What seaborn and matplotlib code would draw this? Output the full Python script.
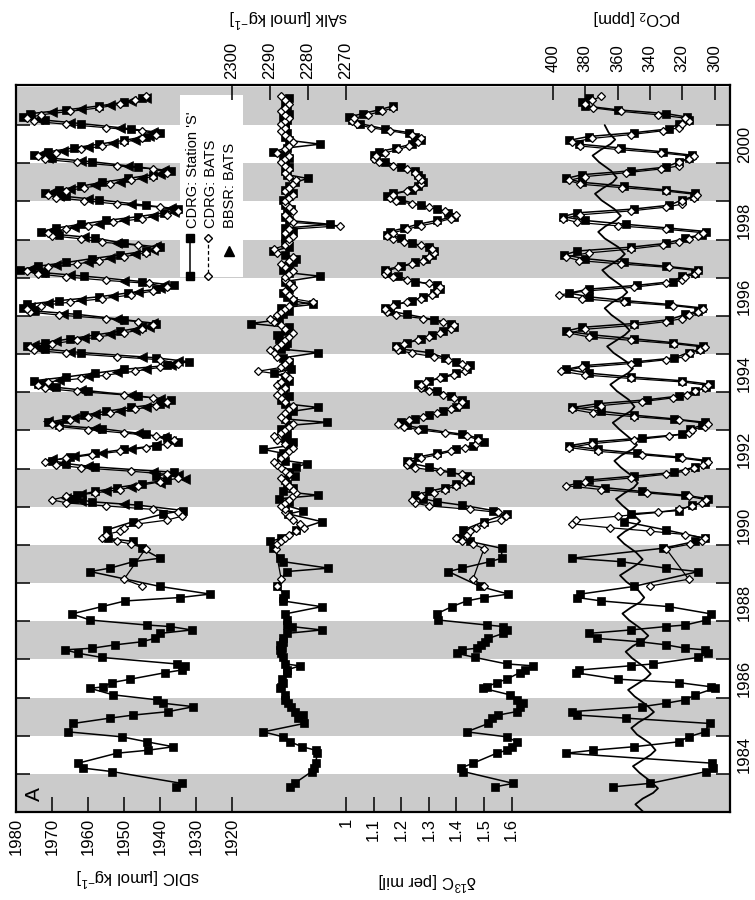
import numpy as np
import pandas as pd
import matplotlib
matplotlib.use("Agg")
import matplotlib.pyplot as plt
from matplotlib.patches import Rectangle
from matplotlib.lines import Line2D
import seaborn as sns

sns.set_theme(style="white")
plt.rcParams['font.family'] = ['Liberation Sans', 'DejaVu Sans']
plt.rcParams['mathtext.fontset'] = 'custom'
plt.rcParams['mathtext.rm'] = 'Liberation Sans'
plt.rcParams['mathtext.it'] = 'Liberation Sans:italic'

# ---------------------------------------------------------------- data
# Station 'S' (CDRG) sampling dates, decimal years
S_T = [
    1983.66, 1983.75,
    1984.06, 1984.15, 1984.28, 1984.54, 1984.62, 1984.71, 1984.84, 1984.97,
    1985.10, 1985.32, 1985.46, 1985.54, 1985.63, 1985.76, 1985.85, 1985.94,
    1986.07, 1986.24, 1986.28, 1986.39, 1986.48, 1986.65, 1986.72, 1986.83, 1986.88,
    1987.05, 1987.16, 1987.25, 1987.29, 1987.38, 1987.46, 1987.55, 1987.68, 1987.77, 1987.86, 1987.90,
    1988.03, 1988.19, 1988.38, 1988.53, 1988.62, 1988.71, 1988.91,
    1989.30, 1989.39, 1989.56, 1989.65, 1989.91,
    1990.09, 1990.17, 1990.39, 1990.61, 1990.81, 1990.90,
    1991.04, 1991.13, 1991.21, 1991.30, 1991.40, 1991.50, 1991.60, 1991.70, 1991.80, 1991.90,
    1992.04, 1992.13, 1992.21, 1992.30, 1992.40, 1992.50, 1992.60, 1992.70, 1992.80, 1992.90,
    1993.04, 1993.13, 1993.21, 1993.30, 1993.40, 1993.50, 1993.60, 1993.70, 1993.80, 1993.90,
    1994.04, 1994.13, 1994.21, 1994.30, 1994.40, 1994.50, 1994.60, 1994.70, 1994.80, 1994.90,
    1995.04, 1995.13, 1995.21, 1995.30, 1995.40, 1995.50, 1995.60, 1995.70, 1995.80, 1995.90,
    1996.04, 1996.13, 1996.21, 1996.30, 1996.40, 1996.50, 1996.60, 1996.70, 1996.80, 1996.90,
    1997.04, 1997.13, 1997.21, 1997.30, 1997.40, 1997.50, 1997.60, 1997.70, 1997.80, 1997.90,
    1998.04, 1998.13, 1998.21, 1998.30, 1998.40, 1998.50, 1998.60, 1998.70, 1998.80, 1998.90,
    1999.04, 1999.13, 1999.21, 1999.30, 1999.40, 1999.50, 1999.60, 1999.70, 1999.80, 1999.90,
    2000.04, 2000.13, 2000.21, 2000.30, 2000.40, 2000.50, 2000.60, 2000.70, 2000.80, 2000.90,
    2001.04, 2001.13, 2001.21, 2001.30, 2001.40, 2001.50, 2001.60, 2001.70,
]
S_DIC = [
    1935.5, 1934.0,
    1953.4, 1961.3, 1962.7, 1952.0, 1943.2, 1936.3, 1943.7, 1950.6,
    1965.5, 1964.1, 1953.9, 1947.4, 1937.7, 1930.7, 1939.1, 1940.9,
    1953.0, 1959.4, 1955.7, 1953.4, 1948.3, 1938.6, 1934.0, 1933.1, 1935.4,
    1956.2, 1962.7, 1966.4, 1959.0, 1952.5, 1945.1, 1941.4, 1940.0, 1931.2, 1937.2, 1943.7,
    1959.4, 1964.5, 1956.2, 1949.7, 1934.4, 1926.1, 1940.0,
    1959.4, 1953.9, 1947.4, 1940.0, 1945.1,
    1947.4, 1954.4, 1954.8, 1947.4, 1939.1, 1933.5,
    1946, 1959, 1964, 1963, 1958, 1952, 1945, 1938, 1941, 1936,
    1958, 1966, 1970, 1965, 1958, 1950, 1941, 1935, 1938, 1944,
    1956, 1968, 1971, 1966, 1961, 1955, 1948, 1940, 1937, 1946,
    1960, 1969, 1974, 1975, 1966, 1958, 1950, 1938, 1932, 1941,
    1962, 1972, 1977, 1972, 1965, 1958, 1951, 1945, 1941, 1950,
    1963, 1975, 1978, 1977, 1968, 1957, 1949, 1941, 1936, 1945,
    1961, 1972, 1979, 1974, 1966, 1959, 1951, 1944, 1940, 1950,
    1958, 1968, 1973, 1969, 1962, 1955, 1946, 1939, 1935, 1944,
    1957, 1966, 1972, 1968, 1962, 1956, 1949, 1942, 1937, 1946,
    1959, 1970, 1975, 1971, 1964, 1957, 1950, 1944, 1940, 1948,
    1962, 1972, 1978, 1976, 1966, 1957, 1950, 1945,
]
S_ALK = [
    2284.7, 2283.5,
    2279.0, 2278.5, 2278.0, 2277.5, 2278.0, 2281.5, 2284.7, 2286.5,
    2291.7, 2281.0, 2282.5, 2281.2, 2283.5, 2284.5, 2285.1, 2286.0,
    2286.0, 2287.3, 2287.0, 2286.5, 2286.9, 2285.6, 2285.6, 2282.1, 2286.0,
    2286.5, 2287.0, 2287.3, 2286.8, 2287.3, 2286.5, 2286.5, 2285.5, 2276.4, 2284.3, 2285.6,
    2285.6, 2286.0, 2276.4, 2286.5, 2286.5, 2286.0, 2288.2,
    2285.6, 2274.6, 2286.5, 2287.3, 2289.1,
    2290.0, 2287.0, 2283.0, 2276.4, 2285.1, 2281.2,
    2286.0, 2285.0, 2287.5, 2277.3, 2286.5, 2284.0, 2285.6, 2286.0, 2283.5, 2285.0,
    2283.0, 2280.3, 2286.0, 2287.0, 2286.5, 2291.7, 2285.0, 2284.0, 2286.0, 2285.5,
    2287.0, 2285.0, 2275.0, 2286.0, 2285.5, 2284.0, 2277.3, 2286.0, 2287.0, 2285.0,
    2286.5, 2286.0, 2287.0, 2285.0, 2286.0, 2289.0, 2284.5, 2286.0, 2285.0, 2286.5,
    2277.3, 2287.0, 2286.0, 2285.5, 2287.5, 2288.0, 2286.0, 2285.0, 2295.0, 2287.5,
    2286.5, 2285.0, 2287.0, 2278.6, 2284.0, 2285.5, 2286.5, 2285.0, 2284.5, 2286.0,
    2276.8, 2285.0, 2286.5, 2285.0, 2284.0, 2283.0, 2286.0, 2289.1, 2285.0, 2286.0,
    2286.0, 2285.5, 2284.0, 2286.0, 2274.2, 2285.0, 2286.0, 2285.5, 2284.5, 2286.0,
    2286.5, 2285.0, 2284.0, 2286.0, 2285.0, 2283.5, 2280.0, 2285.5, 2286.0, 2285.0,
    2286.0, 2285.0, 2286.5, 2289.1, 2285.5, 2276.8, 2285.0, 2286.0, 2285.5, 2286.0,
    2286.0, 2285.5, 2286.5, 2285.0, 2286.0, 2285.5, 2286.0, 2285.0,
]
S_D13C = [
    1.540, 1.606,
    1.425, 1.415, 1.461, 1.546, 1.582, 1.600, 1.618, 1.582,
    1.437, 1.516, 1.530, 1.552, 1.618, 1.630, 1.643, 1.620,
    1.594, 1.498, 1.510, 1.546, 1.582, 1.630, 1.649, 1.679, 1.582,
    1.467, 1.401, 1.420, 1.473, 1.490, 1.505, 1.516, 1.570, 1.582, 1.570, 1.510,
    1.335, 1.328, 1.383, 1.437, 1.500, 1.588, 1.486,
    1.371, 1.420, 1.522, 1.564, 1.564,
    1.449, 1.413, 1.425, 1.500, 1.582, 1.534,
    1.42, 1.33, 1.28, 1.25, 1.30, 1.36, 1.40, 1.45, 1.44, 1.38,
    1.30, 1.24, 1.22, 1.26, 1.33, 1.40, 1.46, 1.50, 1.48, 1.42,
    1.28, 1.22, 1.20, 1.25, 1.30, 1.35, 1.40, 1.43, 1.42, 1.38,
    1.33, 1.28, 1.26, 1.30, 1.35, 1.40, 1.44, 1.45, 1.40, 1.36,
    1.30, 1.20, 1.18, 1.22, 1.27, 1.31, 1.35, 1.39, 1.38, 1.32,
    1.22, 1.16, 1.14, 1.18, 1.24, 1.28, 1.32, 1.34, 1.33, 1.25,
    1.19, 1.15, 1.14, 1.20, 1.25, 1.29, 1.31, 1.32, 1.30, 1.24,
    1.20, 1.15, 1.16, 1.21, 1.26, 1.33, 1.39, 1.37, 1.33, 1.27,
    1.20, 1.15, 1.17, 1.24, 1.26, 1.28, 1.27, 1.26, 1.25, 1.20,
    1.14, 1.11, 1.10, 1.12, 1.18, 1.24, 1.27, 1.25, 1.23, 1.14,
    1.05, 1.02, 1.01, 1.06, 1.12, 1.17, np.nan, np.nan,
]
S_PCO2 = [
    362.7, 339.9,
    305.0, 300.7, 301.7, 392.0, 375.0, 350.0, 322.0, 316.0,
    306.0, 303.0, 355.0, 385.0, 388.0, 345.0, 330.0, 318.0,
    312.0, 300.0, 302.0, 322.0, 360.0, 386.0, 384.0, 352.0, 338.0,
    310.0, 304.0, 306.0, 318.0, 330.0, 346.0, 373.0, 378.0, 352.0, 330.0, 318.0,
    305.0, 302.0, 328.0, 370.0, 385.0, 383.0, 350.0,
    310.0, 330.0, 358.0, 388.0, 332.0,
    312.0, 306.0, 330.0, 356.0, 352.0, 322.0,
    314, 306, 304, 318, 345, 368, 385, 378, 350, 325,
    312, 306, 305, 322, 348, 372, 390, 375, 345, 320,
    315, 308, 306, 325, 350, 370, 388, 372, 342, 322,
    312, 305, 303, 320, 352, 378, 392, 380, 348, 325,
    316, 309, 307, 326, 350, 375, 392, 382, 350, 328,
    318, 310, 308, 328, 355, 378, 390, 378, 348, 326,
    320, 312, 310, 330, 356, 380, 393, 385, 352, 330,
    318, 308, 305, 328, 355, 380, 394, 385, 350, 328,
    320, 313, 312, 330, 356, 382, 392, 382, 352, 330,
    322, 316, 314, 332, 358, 384, 390, 378, 350, 328,
    322, 316, 317, 330, 360, 380, 382, 378,
]

# BATS (CDRG) sampling dates
B_T = [
    1988.92, 1989.10, 1989.90,
    1990.02, 1990.10, 1990.18, 1990.27, 1990.36, 1990.45, 1990.55, 1990.65, 1990.75, 1990.85, 1990.93,
    1991.02, 1991.10, 1991.18, 1991.27, 1991.36, 1991.45, 1991.55, 1991.65, 1991.75, 1991.85, 1991.93,
    1992.02, 1992.10, 1992.18, 1992.27, 1992.36, 1992.45, 1992.55, 1992.65, 1992.75, 1992.85, 1992.93,
    1993.02, 1993.10, 1993.18, 1993.27, 1993.36, 1993.45, 1993.55, 1993.65, 1993.75, 1993.85, 1993.93,
    1994.02, 1994.10, 1994.18, 1994.27, 1994.36, 1994.45, 1994.55, 1994.65, 1994.75, 1994.85, 1994.93,
    1995.02, 1995.10, 1995.18, 1995.27, 1995.36, 1995.45, 1995.55, 1995.65, 1995.75, 1995.85, 1995.93,
    1996.02, 1996.10, 1996.18, 1996.27, 1996.36, 1996.45, 1996.55, 1996.65, 1996.75, 1996.85, 1996.93,
    1997.02, 1997.10, 1997.18, 1997.27, 1997.36, 1997.45, 1997.55, 1997.65, 1997.75, 1997.85, 1997.93,
    1998.02, 1998.10, 1998.18, 1998.27, 1998.36, 1998.45, 1998.55, 1998.65, 1998.75, 1998.85, 1998.93,
    1999.02, 1999.10, 1999.18, 1999.27, 1999.36, 1999.45, 1999.55, 1999.65, 1999.75, 1999.85, 1999.93,
    2000.02, 2000.10, 2000.18, 2000.27, 2000.36, 2000.45, 2000.55, 2000.65, 2000.75, 2000.85, 2000.93,
    2001.02, 2001.10, 2001.18, 2001.27, 2001.36, 2001.45, 2001.55, 2001.65, 2001.75,
]
B_DIC = [
    1945, 1950, 1944,
    1948, 1952, 1956, 1955, 1951, 1950, 1946, 1938, 1934, 1935, 1942,
    1955, 1966, 1970, 1966, 1958, 1951, 1946, 1940, 1935, 1938, 1948,
    1962, 1969, 1972, 1966, 1959, 1951, 1944, 1938, 1936, 1941, 1950,
    1960, 1968, 1970, 1965, 1960, 1954, 1947, 1941, 1938, 1942, 1950,
    1963, 1972, 1974, 1971, 1962, 1955, 1947, 1940, 1935, 1940, 1952,
    1966, 1975, 1976, 1970, 1963, 1957, 1950, 1945, 1942, 1946, 1955,
    1968, 1976, 1977, 1973, 1965, 1956, 1948, 1942, 1938, 1943, 1955,
    1966, 1974, 1977, 1971, 1963, 1957, 1950, 1944, 1941, 1946, 1956,
    1962, 1970, 1971, 1966, 1960, 1953, 1945, 1938, 1935, 1940, 1952,
    1961, 1969, 1971, 1966, 1961, 1954, 1948, 1942, 1938, 1942, 1952,
    1963, 1972, 1974, 1969, 1962, 1956, 1950, 1945, 1941, 1945, 1955,
    1966, 1975, 1977, 1973, 1965, 1957, 1951, 1947, 1944,
]
B_ALK = [
    2288.2, 2287.0, 2288.5,
    2288, 2287, 2286, 2285, 2283, 2281, 2282, 2284, 2285, 2286, 2286,
    2287, 2286, 2285, 2284, 2283, 2284, 2285, 2286, 2287, 2285, 2286,
    2287, 2288, 2289, 2287, 2286, 2285, 2284, 2286, 2288, 2289, 2287,
    2286, 2285, 2284, 2286, 2287, 2286, 2285, 2284, 2286, 2287, 2288,
    2287, 2286, 2288, 2287, 2285, 2286, 2293, 2287, 2286, 2285, 2288,
    2289, 2290, 2288, 2287, 2286, 2285, 2284, 2286, 2287, 2289, 2290,
    2288, 2287, 2286, 2285, 2278.6, 2284, 2285, 2286, 2284, 2285, 2286,
    2286, 2285, 2284, 2286, 2287, 2285, 2284, 2288, 2289, 2286, 2285,
    2285, 2284, 2286, 2285, 2271.6, 2284, 2285, 2286, 2284, 2285, 2286,
    2286, 2285, 2284, 2286, 2285, 2284, 2283, 2285, 2286, 2285, 2286,
    2287, 2286, 2285, 2288, 2286, 2285, 2284, 2285, 2286, 2287, 2286,
    2287, 2286, 2285, 2286, 2287, 2286, 2285, 2286, 2287,
]
B_D13C = [
    1.50, 1.46, 1.50,
    1.46, 1.42, 1.40, 1.44, 1.45, 1.47, 1.50, 1.56, 1.58, 1.55, 1.45,
    1.30, 1.25, 1.24, 1.27, 1.32, 1.36, 1.40, 1.43, 1.45, 1.42, 1.34,
    1.25, 1.22, 1.23, 1.27, 1.33, 1.38, 1.43, 1.47, 1.48, 1.44, 1.36,
    1.26, 1.21, 1.19, 1.23, 1.28, 1.33, 1.38, 1.41, 1.42, 1.39, 1.35,
    1.30, 1.27, 1.27, 1.29, 1.34, 1.39, 1.43, 1.44, 1.42, 1.37, 1.32,
    1.24, 1.19, 1.18, 1.21, 1.26, 1.30, 1.34, 1.38, 1.39, 1.35, 1.28,
    1.18, 1.15, 1.14, 1.17, 1.22, 1.27, 1.31, 1.33, 1.34, 1.30, 1.22,
    1.17, 1.14, 1.15, 1.19, 1.24, 1.28, 1.30, 1.32, 1.31, 1.27, 1.21,
    1.17, 1.15, 1.17, 1.22, 1.27, 1.33, 1.38, 1.40, 1.36, 1.30, 1.24,
    1.18, 1.16, 1.17, 1.22, 1.25, 1.27, 1.27, 1.26, 1.25, 1.22, 1.17,
    1.12, 1.10, 1.11, 1.14, 1.19, 1.23, 1.26, 1.27, 1.24, 1.16, 1.09,
    1.04, 1.02, 1.03, 1.08, 1.13, 1.17, np.nan, np.nan, np.nan,
]
B_PCO2 = [
    340, 316, 330,
    315, 308, 306, 318, 340, 365, 388, 386, 360, 335, 322,
    314, 308, 305, 316, 342, 370, 392, 380, 352, 330, 318,
    313, 307, 304, 320, 345, 372, 390, 376, 350, 328, 316,
    314, 306, 304, 322, 350, 375, 388, 370, 345, 326, 317,
    312, 306, 304, 320, 352, 380, 395, 382, 352, 330, 318,
    315, 309, 306, 325, 352, 378, 390, 380, 350, 330, 320,
    316, 310, 307, 326, 356, 382, 396, 380, 350, 330, 320,
    318, 312, 310, 328, 358, 384, 392, 378, 352, 332, 322,
    316, 310, 307, 330, 360, 385, 394, 383, 352, 330, 320,
    320, 313, 311, 330, 357, 383, 390, 380, 355, 333, 322,
    322, 316, 313, 333, 360, 383, 388, 376, 352, 332, 322,
    320, 316, 318, 335, 358, 375, 380, 376, 370,
]

# BBSR DIC at BATS
R_T = [
    1991.06, 1991.15, 1991.24, 1991.33, 1991.42, 1991.52, 1991.62, 1991.72, 1991.82, 1991.92,
    1992.06, 1992.15, 1992.24, 1992.33, 1992.42, 1992.52, 1992.62, 1992.72, 1992.82, 1992.92,
    1993.06, 1993.15, 1993.24, 1993.33, 1993.42, 1993.52, 1993.62, 1993.72, 1993.82, 1993.92,
    1994.06, 1994.15, 1994.24, 1994.33, 1994.42, 1994.52, 1994.62, 1994.72, 1994.82, 1994.92,
    1995.06, 1995.15, 1995.24, 1995.33, 1995.42, 1995.52, 1995.62, 1995.72, 1995.82, 1995.92,
    1996.06, 1996.15, 1996.24, 1996.33, 1996.42, 1996.52, 1996.62, 1996.72, 1996.82, 1996.92,
    1997.06, 1997.15, 1997.24, 1997.33, 1997.42, 1997.52, 1997.62, 1997.72, 1997.82, 1997.92,
    1998.06, 1998.15, 1998.24, 1998.33, 1998.42, 1998.52, 1998.62, 1998.72, 1998.82, 1998.92,
    1999.06, 1999.15, 1999.24, 1999.33, 1999.42, 1999.52, 1999.62, 1999.72, 1999.82, 1999.92,
    2000.06, 2000.15, 2000.24, 2000.33, 2000.42, 2000.52, 2000.62, 2000.72, 2000.82, 2000.92,
    2001.06, 2001.15, 2001.24, 2001.33, 2001.42, 2001.52, 2001.62, 2001.72,
]
R_DIC = [
    1950, 1962, 1966, 1962, 1955, 1948, 1940, 1933, 1935, 1942,
    1960, 1967, 1970, 1964, 1956, 1948, 1941, 1937, 1939, 1946,
    1958, 1969, 1971, 1964, 1958, 1951, 1944, 1939, 1940, 1948,
    1962, 1971, 1973, 1968, 1960, 1952, 1944, 1937, 1935, 1945,
    1965, 1974, 1975, 1969, 1961, 1954, 1947, 1943, 1942, 1952,
    1967, 1975, 1976, 1971, 1962, 1953, 1946, 1940, 1939, 1950,
    1965, 1973, 1976, 1969, 1960, 1954, 1947, 1942, 1941, 1952,
    1961, 1969, 1970, 1964, 1957, 1950, 1942, 1936, 1937, 1948,
    1960, 1968, 1970, 1965, 1958, 1951, 1945, 1940, 1939, 1949,
    1962, 1971, 1973, 1967, 1960, 1953, 1947, 1943, 1942, 1951,
    1965, 1974, 1976, 1970, 1962, 1954, 1948, 1944,
]

# smoothed reference pCO2 curve
C_T = [
    1983.00, 1983.20, 1983.35, 1983.50, 1983.62, 1983.80,
    1984.03, 1984.20, 1984.35, 1984.50, 1984.62, 1984.80,
    1985.03, 1985.20, 1985.35, 1985.50, 1985.62, 1985.80,
    1986.03, 1986.20, 1986.35, 1986.50, 1986.62, 1986.80,
    1987.03, 1987.20, 1987.35, 1987.50, 1987.62, 1987.80,
    1988.03, 1988.20, 1988.35, 1988.50, 1988.62, 1988.80,
    1989.03, 1989.20, 1989.35, 1989.50, 1989.62, 1989.80,
    1990.03, 1990.20, 1990.35, 1990.50, 1990.62, 1990.80,
    1991.03, 1991.20, 1991.35, 1991.50, 1991.62, 1991.80,
    1992.03, 1992.20, 1992.35, 1992.50, 1992.62, 1992.80,
    1993.03, 1993.20, 1993.35, 1993.50, 1993.62, 1993.80,
    1994.03, 1994.20, 1994.35, 1994.50, 1994.62, 1994.80,
    1995.03, 1995.20, 1995.35, 1995.50, 1995.62, 1995.80,
    1996.03, 1996.20, 1996.35, 1996.50, 1996.62, 1996.80,
    1997.03, 1997.20, 1997.35, 1997.50, 1997.62, 1997.80,
    1998.03, 1998.20, 1998.35, 1998.50, 1998.62, 1998.80,
    1999.03, 1999.20, 1999.35, 1999.50, 1999.62, 1999.80,
    2000.03, 2000.20, 2000.35, 2000.50, 2000.62, 2000.80,
    2001.00,
]
C_PCO2 = [
    344.0, 349.0, 344.5, 338.0, 335.0, 339.5,
    346.5, 350.5, 345.0, 339.5, 336.5, 340.0,
    348.0, 351.5, 347.0, 341.0, 337.5, 342.0,
    349.5, 353.5, 348.0, 342.5, 339.5, 343.5,
    351.0, 355.0, 350.5, 344.0, 341.0, 345.5,
    353.0, 357.0, 352.0, 346.0, 343.5, 347.0,
    354.5, 358.5, 353.0, 347.5, 344.5, 348.5,
    356.0, 360.0, 355.5, 349.0, 346.0, 350.5,
    357.0, 361.0, 356.0, 350.0, 347.5, 351.0,
    358.0, 362.0, 357.5, 351.0, 348.0, 352.5,
    359.0, 363.0, 358.0, 352.0, 349.5, 353.0,
    360.5, 364.5, 359.5, 353.5, 350.5, 354.5,
    362.5, 366.5, 361.0, 355.5, 352.5, 356.5,
    364.0, 368.0, 363.5, 357.0, 354.0, 358.0,
    365.5, 369.5, 364.0, 358.5, 355.5, 359.5,
    368.0, 372.0, 367.5, 361.0, 358.0, 362.0,
    370.0, 374.0, 369.0, 363.0, 360.5, 364.0,
    371.5, 375.5, 370.5, 364.5, 361.5, 365.5,
    368.0,
]

# axis ticks per panel
DIC_TICKS = [1920, 1930, 1940, 1950, 1960, 1970, 1980]
ALK_TICKS = [2270, 2280, 2290, 2300]
D13C_TICKS = [1.0, 1.1, 1.2, 1.3, 1.4, 1.5, 1.6]
D13C_LABELS = ["1", "1.1", "1.2", "1.3", "1.4", "1.5", "1.6"]
PCO2_TICKS = [300, 320, 340, 360, 380, 400]
YEAR_LABELS = [1984, 1986, 1988, 1990, 1992, 1994, 1996, 1998, 2000]
SHADED_YEARS = [1983, 1985, 1987, 1989, 1991, 1993, 1995, 1997, 1999, 2001]

# ---------------------------------------------------------------- layout
W, H = 755, 900
fig = plt.figure(figsize=(W / 100, H / 100), dpi=100)
fig.patch.set_facecolor("white")
FL, FR, FT, FB = 16, 730, 85, 812          # frame in pixels
rect = [FL / W, 1 - FB / H, (FR - FL) / W, (FB - FT) / H]
T0, T1 = 1983.0, 2002.05
PX_PER_YR = (FB - FT) / (T1 - T0)


def t_of(ypix):
    return T0 + (FB - ypix) / PX_PER_YR


def span(x0, v0, k):
    """x-limits so that value v0 sits at pixel x0 with k pixels per unit."""
    return (v0 + (FL - x0) / k, v0 + (FR - x0) / k)


TXT = 12
INK = "black"

ax0 = fig.add_axes(rect)
ax0.set_xlim(0, 1)
ax0.set_ylim(T0, T1)
ax0.set_facecolor("white")
for yr in SHADED_YEARS:
    ax0.axhspan(yr, yr + 1, color="#cbcbcb", lw=0, zorder=0)
for s in ax0.spines.values():
    s.set_visible(True)
    s.set_color(INK)
    s.set_linewidth(1.6)
ax0.set_xticks([])
ax0.set_yticks(list(range(1984, 2002)))
ax0.set_yticklabels([])
ax0.tick_params(axis="y", which="major", direction="in", length=10, width=1.1,
                left=True, right=True, color=INK, labelleft=False, labelright=False)
ax0.set_yticks([y + 0.5 for y in YEAR_LABELS], minor=True)
ax0.set_yticklabels([str(y) for y in YEAR_LABELS], minor=True)
ax0.tick_params(axis="y", which="minor", length=0, left=False, right=True,
                labelleft=False, labelright=True, labelrotation=90, pad=5,
                labelsize=TXT, labelcolor=INK)
for lab in ax0.get_yticklabels(minor=True):
    lab.set_va("center")

# white legend panel
lx0, lx1 = (180 - FL) / (FR - FL), (243 - FL) / (FR - FL)
ax0.add_patch(Rectangle((lx0, t_of(277)), lx1 - lx0, t_of(95) - t_of(277),
                        facecolor="white", edgecolor="none", zorder=1))


def panel(xlim, ticks, labels, side, pad):
    ax = fig.add_axes(rect)
    ax.patch.set_visible(False)
    for s in ax.spines.values():
        s.set_visible(False)
    ax.set_ylim(T0, T1)
    ax.set_yticks([])
    ax.set_xlim(*xlim)
    ax.set_xticks(ticks)
    ax.set_xticklabels(labels)
    ax.xaxis.set_ticks_position(side)
    ax.xaxis.set_label_position(side)
    ax.tick_params(axis="x", direction="in", length=11, width=1.1, color=INK,
                   labelsize=TXT, labelrotation=90, pad=pad, labelcolor=INK,
                   bottom=(side == "bottom"), top=(side == "top"),
                   labelbottom=(side == "bottom"), labeltop=(side == "top"))
    ax.set_xlabel("")
    ax.set_ylabel("")
    ax.grid(False)
    return ax


ax_dic = panel(span(16, 1980, -3.6), DIC_TICKS, [str(v) for v in DIC_TICKS], "bottom", 4)
ax_alk = panel(span(231.7, 2300, -3.81), ALK_TICKS, [str(v) for v in ALK_TICKS], "top", 4)
ax_c13 = panel(span(346, 1.0, 276), D13C_TICKS, D13C_LABELS, "bottom", 4)
ax_pco = panel(span(553, 400, -1.615), PCO2_TICKS, [str(v) for v in PCO2_TICKS], "top", 9)

dfS = pd.DataFrame({"t": S_T, "dic": S_DIC, "alk": S_ALK, "c13": S_D13C, "pco2": S_PCO2})
dfB = pd.DataFrame({"t": B_T, "dic": B_DIC, "alk": B_ALK, "c13": B_D13C, "pco2": B_PCO2})
dfR = pd.DataFrame({"t": R_T, "dic": R_DIC})
dfC = pd.DataFrame({"t": C_T, "pco2": C_PCO2})

S_KW = dict(color=INK, lw=1.1, marker="s", markersize=5.6, markerfacecolor=INK,
            markeredgecolor=INK, markeredgewidth=0.5)
B_KW = dict(color=INK, lw=0.9, marker="D", markersize=4.2, markerfacecolor="white",
            markeredgecolor=INK, markeredgewidth=0.9)

for ax, col in [(ax_dic, "dic"), (ax_alk, "alk"), (ax_c13, "c13"), (ax_pco, "pco2")]:
    sns.lineplot(data=dfS, x=col, y="t", sort=False, estimator=None, ax=ax,
                 legend=False, **S_KW)
    if col == "dic":
        sns.scatterplot(data=dfR, x="dic", y="t", ax=ax, marker="<", s=50,
                        color=INK, edgecolor=INK, linewidth=0.5, legend=False, zorder=3)
    sns.lineplot(data=dfB, x=col, y="t", sort=False, estimator=None, ax=ax,
                 legend=False, zorder=4, **B_KW)
    ax.set_xlabel("")
    ax.set_ylabel("")

sns.lineplot(data=dfC, x="pco2", y="t", sort=False, estimator=None, ax=ax_pco,
             color=INK, lw=1.3, legend=False, zorder=2)
ax_pco.set_xlabel("")
ax_pco.set_ylabel("")
for ax in (ax_dic, ax_alk, ax_c13, ax_pco):
    ax.set_ylim(T0, T1)


# ---------------------------------------------------------------- legend
def fx(px):
    return px / W


def fy(py):
    return 1 - py / H


fig.add_artist(Line2D([fx(190), fx(190)], [fy(238), fy(276)], color=INK, lw=1.1,
                      marker="s", markersize=5.6, markevery=[0, 1]))
fig.add_artist(Line2D([fx(208), fx(208)], [fy(238), fy(276)], color=INK, lw=0.9,
                      ls=(0, (3, 2)), marker="D", markersize=4.2,
                      markerfacecolor="white", markeredgecolor=INK, markevery=[0, 1]))
fig.add_artist(Line2D([fx(229)], [fy(251)], color=INK, lw=0, marker="^",
                      markersize=6.5))
for xp, txt in [(193, "CDRG: Station 'S'"), (211, "CDRG: BATS"), (230, "BBSR: BATS")]:
    fig.text(fx(xp), fy(228), txt, rotation=90, ha="center", va="bottom",
             fontsize=10.5, color=INK)

# ---------------------------------------------------------------- labels
fig.text(fx(34), fy(794), "A", rotation=90, ha="center", va="center",
         fontsize=15, color=INK)
fig.text(fx(138), fy(877), "sDIC [µmol kg$^{-1}$]", rotation=180,
         ha="center", va="center", fontsize=TXT, color=INK)
fig.text(fx(427), fy(881), "δ$^{13}$C [per mil]", rotation=180,
         ha="center", va="center", fontsize=TXT, color=INK)
fig.text(fx(289), fy(18), "sAlk [µmol kg$^{-1}$]", rotation=180,
         ha="center", va="center", fontsize=TXT, color=INK)
fig.text(fx(637), fy(17), "pCO$_2$ [ppm]", rotation=180,
         ha="center", va="center", fontsize=TXT, color=INK)

fig.savefig("out.png", dpi=100, facecolor="white")
